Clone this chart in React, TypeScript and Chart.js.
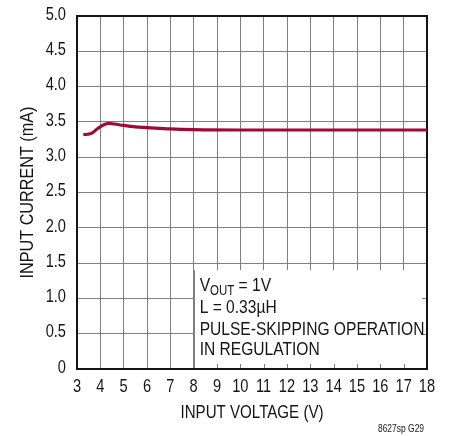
import React, { useEffect, useRef } from "react";
import { Chart, registerables } from "chart.js";

Chart.register(...registerables);

const inputVoltage = [3.27, 3.45, 3.63, 3.9, 4.15, 4.35, 4.6, 5, 5.5, 6, 7, 8, 10, 12, 14, 16, 18];
const inputCurrent = [3.32, 3.325, 3.34, 3.41, 3.46, 3.48, 3.47, 3.45, 3.43, 3.42, 3.40, 3.39, 3.385, 3.385, 3.385, 3.385, 3.385];
const xTicks = [3, 4, 5, 6, 7, 8, 9, 10, 11, 12, 13, 14, 15, 16, 17, 18];
const yTicks = [0, 0.5, 1, 1.5, 2, 2.5, 3, 3.5, 4, 4.5, 5];
const xTitle = "INPUT VOLTAGE (V)";
const yTitle = "INPUT CURRENT (mA)";
const noteLines = ["L = 0.33µH", "PULSE-SKIPPING OPERATION", "IN REGULATION"];
const footer = "8627sp G29";

const FONT = "'Liberation Sans', Arial, sans-serif";
const INK = "#151515";
const GRID = "#808080";

function txt(ctx: any, s: string, x: number, y: number, size: number, sx: number, align: string, baseline: string, rot = 0) {
  ctx.save();
  ctx.translate(x, y);
  if (rot) ctx.rotate(rot);
  ctx.scale(sx, 1);
  ctx.font = `${size}px ${FONT}`;
  ctx.fillStyle = INK;
  ctx.textAlign = align;
  ctx.textBaseline = baseline;
  ctx.fillText(s, 0, 0);
  const w = ctx.measureText(s).width * sx;
  ctx.restore();
  return w;
}

const drawPlugin = {
  id: "draw",
  beforeDatasetsDraw(chart: any) {
    const { ctx, scales, chartArea } = chart;
    const x = scales.x;
    const y = scales.y;
    const left = x.getPixelForValue(8);
    const right = x.getPixelForValue(18);
    const top = y.getPixelForValue(1.4);
    const bottom = y.getPixelForValue(0);
    ctx.save();
    ctx.fillStyle = "#ffffff";
    ctx.fillRect(left + 1, top, right - left, bottom - top);
    ctx.strokeStyle = GRID;
    ctx.lineWidth = 1;
    ctx.beginPath();
    ctx.moveTo(Math.round(left) + 0.5, top);
    ctx.lineTo(Math.round(left) + 0.5, bottom);
    for (let v = 9; v <= 17; v++) {
      const px = Math.round(x.getPixelForValue(v)) + 0.5;
      ctx.moveTo(px, bottom);
      ctx.lineTo(px, bottom - 5);
    }
    for (const v of [0.5, 1]) {
      const py = Math.round(y.getPixelForValue(v)) + 0.5;
      ctx.moveTo(right, py);
      ctx.lineTo(right - 5, py);
    }
    ctx.stroke();
    // frame
    ctx.strokeStyle = INK;
    ctx.lineWidth = 2;
    ctx.strokeRect(chartArea.left, chartArea.top, chartArea.right - chartArea.left, chartArea.bottom - chartArea.top);
    // note text
    const tx = left + 6;
    const base = top + 20.5;
    let w = txt(ctx, "V", tx, base, 19, 0.82, "left", "alphabetic");
    w += txt(ctx, "OUT", tx + w, base + 4, 14, 0.82, "left", "alphabetic");
    txt(ctx, " = 1V", tx + w, base, 19, 0.82, "left", "alphabetic");
    const offs = [22, 44.3, 64.3];
    noteLines.forEach((t, i) => txt(ctx, t, tx, base + offs[i], 19, 0.82, "left", "alphabetic"));
    ctx.restore();
  },
  afterDraw(chart: any) {
    const { ctx, scales, chartArea } = chart;
    const x = scales.x;
    const y = scales.y;
    xTicks.forEach((v) => txt(ctx, String(v), x.getPixelForValue(v), chartArea.bottom + 23, 19, 0.77, "center", "alphabetic"));
    yTicks.forEach((v) =>
      txt(ctx, v === 0 ? "0" : v.toFixed(1), chartArea.left - 11, y.getPixelForValue(v) - 1.5, 19, 0.77, "right", "middle")
    );
    txt(ctx, xTitle, (chartArea.left + chartArea.right) / 2, 418, 18, 0.84, "center", "alphabetic");
    txt(ctx, yTitle, 33, (chartArea.top + chartArea.bottom) / 2, 18, 0.9, "center", "alphabetic", -Math.PI / 2);
    txt(ctx, footer, 401, 432, 11, 0.77, "center", "alphabetic");
  },
};

export default function App() {
  const ref = useRef<HTMLCanvasElement | null>(null);
  useEffect(() => {
    if (!ref.current) return;
    const chart = new Chart(ref.current, {
      type: "line",
      data: {
        datasets: [
          {
            data: inputVoltage.map((v, i) => ({ x: v, y: inputCurrent[i] })),
            borderColor: "#9b0b36",
            borderWidth: 3.2,
            pointRadius: 0,
            cubicInterpolationMode: "monotone",
            fill: false,
          },
        ],
      },
      options: {
        animation: false,
        responsive: false,
        maintainAspectRatio: false,
        layout: { padding: { top: 16, right: 26, left: 0, bottom: 0 } },
        plugins: { legend: { display: false }, tooltip: { enabled: false } },
        scales: {
          x: {
            type: "linear",
            min: 3,
            max: 18,
            afterBuildTicks: (s: any) => {
              s.ticks = xTicks.map((v) => ({ value: v }));
            },
            afterFit: (s: any) => {
              s.height = 436 - 369;
            },
            ticks: { display: false },
            grid: { color: GRID, lineWidth: 1, drawTicks: false },
            border: { color: INK, width: 2 },
          },
          y: {
            type: "linear",
            min: 0,
            max: 5,
            afterBuildTicks: (s: any) => {
              s.ticks = yTicks.map((v) => ({ value: v }));
            },
            afterFit: (s: any) => {
              s.width = 77;
            },
            ticks: { display: false },
            grid: { color: GRID, lineWidth: 1, drawTicks: false },
            border: { color: INK, width: 2 },
          },
        },
      },
      plugins: [drawPlugin],
    });
    return () => chart.destroy();
  }, []);
  return (
    <div style={{ position: "fixed", left: 0, top: 0, width: 453, height: 436, background: "#fff" }}>
      <canvas ref={ref} width={453} height={436} />
    </div>
  );
}
